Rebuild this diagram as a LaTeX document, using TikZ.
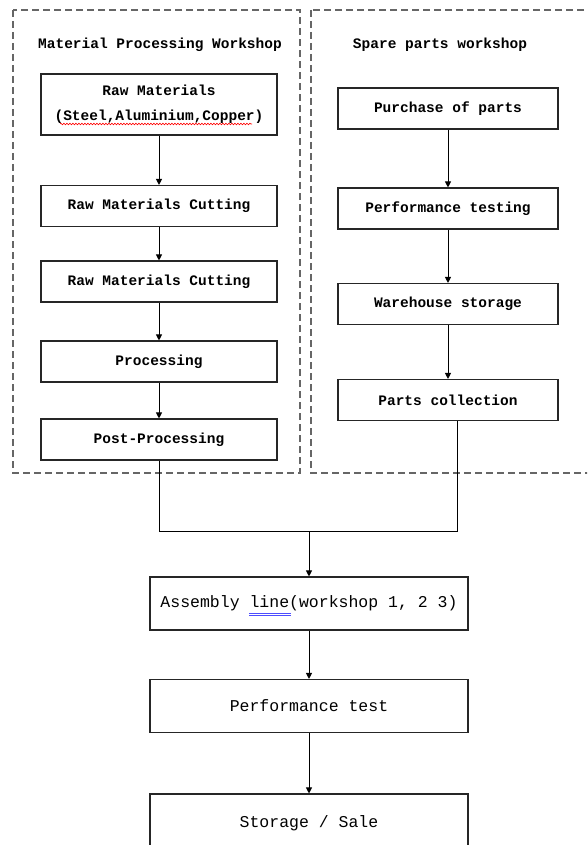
\documentclass[tikz,border=0pt]{standalone}
\usepackage{fontspec}
\setmainfont{Liberation Mono}
\usetikzlibrary{arrows.meta,decorations.pathmorphing}

\tikzset{
  stage/.style={draw=black!85, line width=1.1pt, rectangle, inner sep=0pt, align=center,
    font=\fontsize{14.5}{25}\selectfont\bfseries},
  leftstage/.style={stage, minimum width=236pt, minimum height=41pt},
  rightstage/.style={stage, minimum width=220pt, minimum height=41pt},
  mainstage/.style={draw=black!85, line width=1.1pt, rectangle, inner sep=0pt,
    minimum width=318pt, minimum height=53pt, font=\fontsize{16.5}{20}\selectfont},
  title/.style={font=\fontsize{14.5}{18}\selectfont\bfseries, inner sep=0pt},
  workshop/.style={draw=black!60, line width=1.2pt, dash pattern=on 7pt off 4pt},
  flow/.style={-{Triangle[length=6pt,width=6pt]}, line width=0.9pt},
}

\begin{document}
\begin{tikzpicture}[x=1pt,y=-1pt]
  \useasboundingbox (0,0) rectangle (587,845);
  \clip (0,0) rectangle (587,845);
  % workshops
  \draw[workshop] (13,10) rectangle (300,473);
  \draw[workshop] (311,10) rectangle (595,473);
  \draw
    (160,45) node[title] (matws) {Material Processing Workshop}
    (440,45) node[title] (sparews) {Spare parts workshop}
    (159,104.5) node[leftstage, minimum height=61pt] (raw) {Raw Materials\\(Steel,Aluminium,Copper)}
    (159,206) node[leftstage] (cut1) {Raw Materials Cutting}
    (159,281.5) node[leftstage] (cut2) {Raw Materials Cutting}
    (159,361.5) node[leftstage] (proc) {Processing}
    (159,439.5) node[leftstage] (post) {Post-Processing}
    (448,108.5) node[rightstage] (buy) {Purchase of parts}
    (448,208.5) node[rightstage] (ptest) {Performance testing}
    (448,304) node[rightstage] (store) {Warehouse storage}
    (448,400) node[rightstage] (collect) {Parts collection}
    (309,603.5) node[mainstage] (asm) {Assembly line(workshop 1, 2 3)}
    (309,706) node[mainstage] (perf) {Performance test}
    (309,823) node[mainstage, minimum height=58pt] (sale) {Storage / Sale};
  % joining the two workshops
  \coordinate (jl) at (159,531);
  \coordinate (jr) at (457,531);
  \coordinate (jm) at (309,531);
  \draw[line width=0.9pt] (post.south) -- (jl) -- (jr) -- (collect.south -| jr);
  \begin{scope}[flow]
    \draw (raw) to (cut1);
    \draw (cut1) to (cut2);
    \draw (cut2) to (proc);
    \draw (proc) to (post);
    \draw (buy) to (ptest);
    \draw (ptest) to (store);
    \draw (store) to (collect);
    \draw (jm) to (asm);
    \draw (asm) to (perf);
    \draw (perf) to (sale);
  \end{scope}
  % spell-check marks
  \draw[red, line width=0.6pt, decorate, decoration={snake, amplitude=0.8pt, segment length=3pt}]
    (60,124) -- (252,124);
  \draw[blue!70, line width=0.6pt] (249,613) -- (291,613) (249,615.5) -- (291,615.5);
\end{tikzpicture}
\end{document}
